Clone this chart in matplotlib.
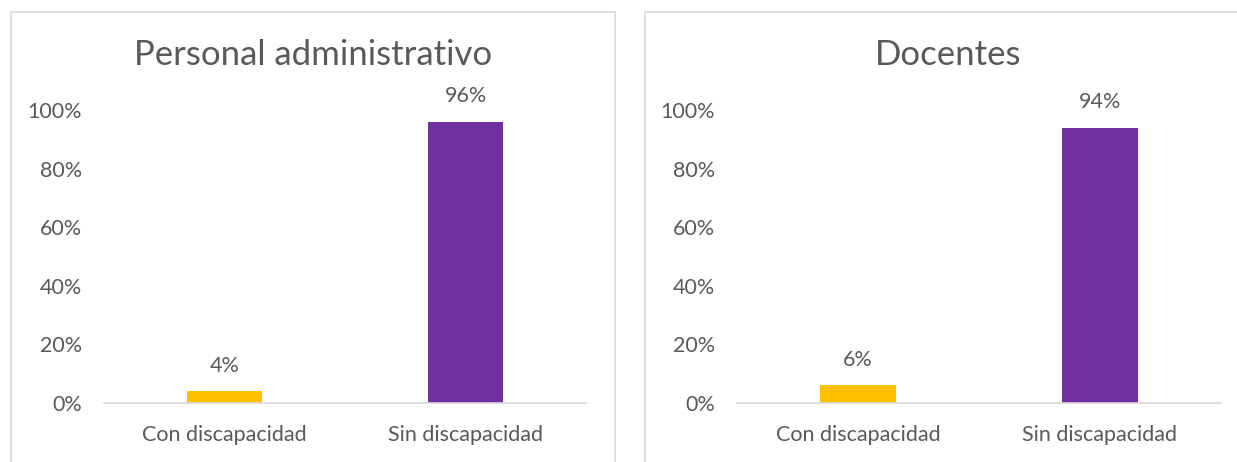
import matplotlib
matplotlib.use("Agg")
import matplotlib.pyplot as plt
from matplotlib.patches import Rectangle

titles = ["Personal administrativo", "Docentes"]
categories = ["Con discapacidad", "Sin discapacidad"]
values_admin = [4, 96]
values_doc = [6, 94]
bar_colors = ["#FFC000", "#7030A0"]
ytick_vals = [0, 20, 40, 60, 80, 100]
ytick_labels = ["0%", "20%", "40%", "60%", "80%", "100%"]

W, H = 1237, 462
fig = plt.figure(figsize=(W / 100, H / 100), dpi=100)
plt.rcParams['font.family'] = ['Lato', 'DejaVu Sans']
txt = "#595959"

def fx(px):
    return px / W

def fy(py):
    return 1 - py / H

# panel borders
for (x0, x1) in [(11, 615), (645, 1250)]:
    fig.patches.append(Rectangle((fx(x0), fy(480)), fx(x1 - x0), (480 - 12) / H,
                                 transform=fig.transFigure, fill=False,
                                 edgecolor="#D9D9D9", linewidth=1.2))

axes_px = [(104, 586), (737, 1221)]
data = [values_admin, values_doc]
title_x = [313, 948]
for i, ((x0, x1), vals) in enumerate(zip(axes_px, data)):
    ax = fig.add_axes([fx(x0), fy(403), fx(x1 - x0), (403 - 110) / H])
    xs = range(len(categories))
    bars = ax.bar(xs, vals, width=0.315, color=bar_colors)
    ax.set_xlim(-0.5, 1.5)
    ax.set_ylim(0, 100)
    ax.set_yticks(ytick_vals)
    ax.set_yticklabels(ytick_labels)
    ax.set_xticks(list(xs))
    ax.set_xticklabels(categories)
    for s in ["top", "right", "left"]:
        ax.spines[s].set_visible(False)
    ax.spines["bottom"].set_color("#D9D9D9")
    ax.spines["bottom"].set_linewidth(1.2)
    ax.tick_params(axis="both", length=0, labelsize=15.5, labelcolor=txt)
    ax.tick_params(axis="y", pad=16)
    ax.tick_params(axis="x", pad=16)
    for b, v in zip(bars, vals):
        ax.annotate(f"{v}%", (b.get_x() + b.get_width() / 2, v),
                    xytext=(0, 11), textcoords="offset points",
                    ha="center", va="bottom", fontsize=15.5, color=txt)
    ax.set_facecolor("none")
    fig.text(fx(title_x[i]), fy(55), titles[i], ha="center", va="center",
             fontsize=25, color=txt)

fig.savefig("out.png", dpi=100)
